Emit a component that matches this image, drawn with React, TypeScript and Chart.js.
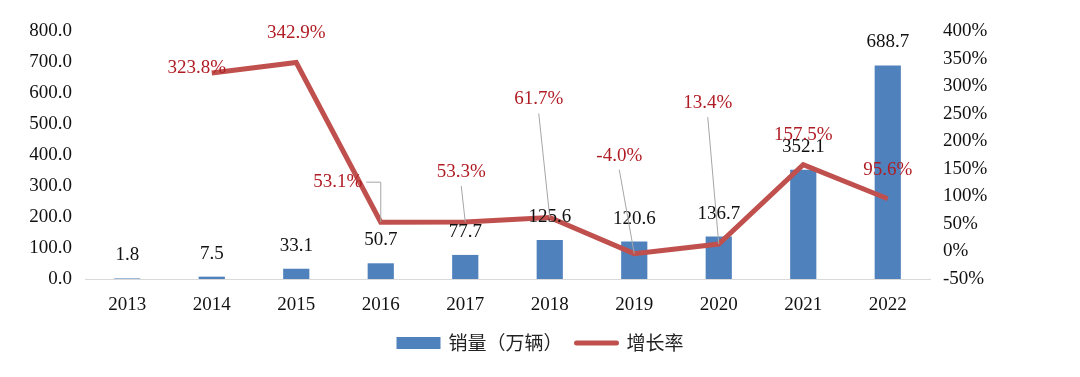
import React, { useEffect, useRef } from "react";
import { Chart, registerables } from "chart.js";

Chart.register(...registerables);

const years = ["2013", "2014", "2015", "2016", "2017", "2018", "2019", "2020", "2021", "2022"];
const sales = [1.8, 7.5, 33.1, 50.7, 77.7, 125.6, 120.6, 136.7, 352.1, 688.7];
const growth: (number | null)[] = [null, 323.8, 342.9, 53.1, 53.3, 61.7, -4.0, 13.4, 157.5, 95.6];
const salesLabel = "销量（万辆）";
const growthLabel = "增长率";
const leftAxis = { min: 0, max: 800, step: 100 };
const rightAxis = { min: -50, max: 400, step: 50 };

// label placement for the growth-rate labels (pixel offsets from the point) + leader style
const growthLabelPlacement: ({ dx: number; dy: number; leader: "none" | "straight" | "elbow" } | null)[] = [
  null,
  { dx: -15, dy: -5, leader: "none" },
  { dx: 0, dy: -29, leader: "none" },
  { dx: -43, dy: -40, leader: "elbow" },
  { dx: -4, dy: -50, leader: "straight" },
  { dx: -11, dy: -118, leader: "straight" },
  { dx: -15, dy: -98, leader: "straight" },
  { dx: -11, dy: -141, leader: "straight" },
  { dx: 0, dy: -30, leader: "none" },
  { dx: 0, dy: -29, leader: "none" },
];

const BAR_COLOR = "#4F81BD";
const LINE_COLOR = "#C0504D";
const LABEL_RED = "#B01C24";
const TEXT = "#111111";
const SERIF = '"Liberation Serif", "Times New Roman", serif';
const CJK = '"Noto Sans CJK SC", "Noto Sans", sans-serif';

const labelsPlugin = {
  id: "valueLabels",
  afterDatasetsDraw(chart: any) {
    const ctx = chart.ctx as CanvasRenderingContext2D;
    const lineMeta = chart.getDatasetMeta(0);
    const barMeta = chart.getDatasetMeta(1);
    ctx.save();
    ctx.font = `19px ${SERIF}`;
    ctx.textAlign = "center";
    ctx.textBaseline = "middle";
    barMeta.data.forEach((el: any, i: number) => {
      ctx.fillStyle = TEXT;
      ctx.fillText(sales[i].toFixed(1), el.x, el.y - 23);
    });
    lineMeta.data.forEach((el: any, i: number) => {
      const v = growth[i];
      const p = growthLabelPlacement[i];
      if (v == null || !p) return;
      const lx = el.x + p.dx;
      const ly = el.y + p.dy;
      const text = v.toFixed(1) + "%";
      const w = ctx.measureText(text).width;
      ctx.strokeStyle = "#A6A6A6";
      ctx.lineWidth = 1;
      if (p.leader === "straight") {
        ctx.beginPath();
        ctx.moveTo(lx, ly + 14);
        ctx.lineTo(el.x, el.y);
        ctx.stroke();
      } else if (p.leader === "elbow") {
        ctx.beginPath();
        ctx.moveTo(lx + w / 2 + 4, ly);
        ctx.lineTo(el.x, ly);
        ctx.lineTo(el.x, el.y);
        ctx.stroke();
      }
      ctx.fillStyle = LABEL_RED;
      ctx.fillText(text, lx, ly);
    });
    ctx.restore();
  },
  afterDraw(chart: any) {
    const ctx = chart.ctx as CanvasRenderingContext2D;
    ctx.save();
    ctx.font = `19px ${CJK}`;
    ctx.textBaseline = "middle";
    ctx.textAlign = "left";
    const w1 = ctx.measureText(salesLabel).width;
    const w2 = ctx.measureText(growthLabel).width;
    const box = 44;
    const gapText = 8;
    const gapItem = 12;
    const total = box + gapText + w1 + gapItem + box + gapText + w2;
    const cy = 343;
    let x = chart.width / 2 - total / 2;
    ctx.fillStyle = BAR_COLOR;
    ctx.fillRect(x, cy - 6, box, 12);
    x += box + gapText;
    ctx.fillStyle = "#222";
    ctx.fillText(salesLabel, x, cy);
    x += w1 + gapItem;
    ctx.strokeStyle = LINE_COLOR;
    ctx.lineWidth = 5;
    ctx.lineCap = "round";
    ctx.beginPath();
    ctx.moveTo(x + 2, cy);
    ctx.lineTo(x + box - 2, cy);
    ctx.stroke();
    x += box + gapText;
    ctx.fillStyle = "#222";
    ctx.fillText(growthLabel, x, cy);
    ctx.restore();
  },
};

export default function App() {
  const canvasRef = useRef<HTMLCanvasElement | null>(null);

  useEffect(() => {
    if (!canvasRef.current) return;
    const chart = new Chart(canvasRef.current, {
      type: "bar",
      data: {
        labels: years,
        datasets: [
          {
            type: "line",
            label: growthLabel,
            data: growth as any,
            yAxisID: "y1",
            borderColor: LINE_COLOR,
            backgroundColor: LINE_COLOR,
            borderWidth: 5,
            pointRadius: 0,
            tension: 0,
            borderJoinStyle: "miter",
            order: 0,
          } as any,
          {
            type: "bar",
            label: salesLabel,
            data: sales,
            yAxisID: "y",
            backgroundColor: BAR_COLOR,
            barPercentage: 0.31,
            categoryPercentage: 1,
            order: 1,
          },
        ],
      },
      options: {
        animation: false,
        responsive: true,
        maintainAspectRatio: false,
        layout: { padding: { top: 31, bottom: 58, left: 0, right: 0 } },
        plugins: {
          legend: { display: false },
          tooltip: { enabled: false },
        },
        scales: {
          x: {
            offset: true,
            grid: { display: false, drawTicks: false },
            border: { display: true, color: "#D9D9D9", width: 1 },
            ticks: { color: TEXT, font: { family: SERIF, size: 19 }, padding: 15 },
            afterFit: (s: any) => {
              s.height = 40;
            },
          },
          y: {
            position: "left",
            min: leftAxis.min,
            max: leftAxis.max,
            grid: { display: false, drawTicks: false },
            border: { display: false },
            ticks: {
              stepSize: leftAxis.step,
              color: TEXT,
              font: { family: SERIF, size: 19 },
              padding: 13,
              callback: (v: any) => Number(v).toFixed(1),
            },
            afterFit: (s: any) => {
              s.width = 85;
            },
          },
          y1: {
            position: "right",
            min: rightAxis.min,
            max: rightAxis.max,
            grid: { display: false, drawTicks: false },
            border: { display: false },
            ticks: {
              stepSize: rightAxis.step,
              color: TEXT,
              font: { family: SERIF, size: 19 },
              padding: 13,
              callback: (v: any) => `${v}%`,
            },
            afterFit: (s: any) => {
              s.width = 150;
            },
          },
        },
      },
      plugins: [labelsPlugin],
    });
    return () => chart.destroy();
  }, []);

  return (
    <div style={{ position: "fixed", left: 0, top: 0, width: 1080, height: 377, background: "#fff" }}>
      <canvas ref={canvasRef} />
    </div>
  );
}
